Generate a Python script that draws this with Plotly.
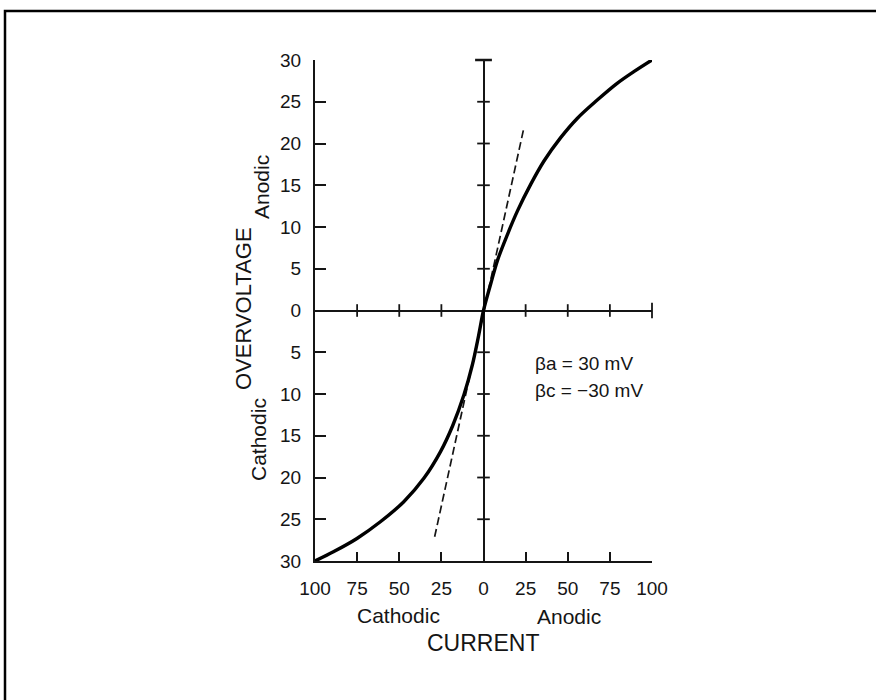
import plotly.graph_objects as go

# ---- data ----
current_curve = [-100, -89.1, -75.1, -61.2, -47.3, -35.4, -25.5, -18.3, -11.6, -6.6, -2.9, 0,
                 4.3, 8.3, 14.2, 20.1, 28.0, 35.9, 45.8, 55.6, 67.5, 79.3, 89.2, 100]
overvoltage_curve = [-30, -28.9, -27.3, -25.3, -22.9, -20.1, -16.9, -13.8, -10.1, -6.5, -3.0, 0,
                     3.2, 6.0, 9.1, 11.9, 15.1, 17.9, 20.7, 23.0, 25.2, 27.2, 28.6, 30]
tangent_current = [-29, 24.1]
tangent_overvoltage = [-27.1, 22]

y_ticks = [-30, -25, -20, -15, -10, -5, 0, 5, 10, 15, 20, 25, 30]
y_ticklabels = ["30", "25", "20", "15", "10", "5", "0", "5", "10", "15", "20", "25", "30"]
x_ticks = [-100, -75, -50, -25, 0, 25, 50, 75, 100]
x_ticklabels = ["100", "75", "50", "25", "0", "25", "50", "75", "100"]

center_y_ticks = [-25, -20, -15, -10, -5, 5, 10, 15, 20, 25]
center_x_ticks = [-75, -50, -25, 25, 50, 75]

W, H = 876, 700
L, R, T, B = 315, 224, 60, 139
PW, PH = W - L - R, H - T - B


def px(x):
    return (x - L) / PW


def py(y):
    return (H - B - y) / PH


FONT = "Liberation Sans, Arial, Helvetica, sans-serif"
INK = "#151515"

fig = go.Figure()

# tick marks on central axes
fig.add_trace(go.Scatter(
    x=[0] * len(center_y_ticks), y=center_y_ticks, mode="markers",
    marker=dict(symbol="line-ew", size=9, line=dict(width=1.8, color=INK)),
    hoverinfo="skip", showlegend=False, cliponaxis=False))
fig.add_trace(go.Scatter(
    x=center_x_ticks, y=[0] * len(center_x_ticks), mode="markers",
    marker=dict(symbol="line-ns", size=9, line=dict(width=1.8, color=INK)),
    hoverinfo="skip", showlegend=False, cliponaxis=False))
# end bars of central axes
fig.add_trace(go.Scatter(
    x=[0], y=[y_ticks[-1]], mode="markers",
    marker=dict(symbol="line-ew", size=12, line=dict(width=2.5, color=INK)),
    hoverinfo="skip", showlegend=False, cliponaxis=False))
fig.add_trace(go.Scatter(
    x=[x_ticks[-1]], y=[0], mode="markers",
    marker=dict(symbol="line-ns", size=11, line=dict(width=1.8, color=INK)),
    hoverinfo="skip", showlegend=False, cliponaxis=False))

# tangent (dashed)
fig.add_trace(go.Scatter(
    x=tangent_current, y=tangent_overvoltage, mode="lines",
    line=dict(color=INK, width=1.7, dash="8px,4px"),
    hoverinfo="skip", showlegend=False, cliponaxis=False))

# polarization curve
fig.add_trace(go.Scatter(
    x=current_curve, y=overvoltage_curve, mode="lines",
    line=dict(color="#000000", width=3.4, shape="spline", smoothing=1.0),
    showlegend=False, cliponaxis=False))

axis_common = dict(
    showgrid=False, showline=True, linecolor=INK, linewidth=2.2,
    ticks="inside", tickcolor=INK, tickwidth=1.8,
    zeroline=True, zerolinecolor=INK, zerolinewidth=2,
    tickfont=dict(family=FONT, size=19, color=INK),
    mirror=False,
)

fig.update_xaxes(range=[-100, 100], tickvals=x_ticks, ticktext=x_ticklabels,
                 ticklen=9, ticklabelstandoff=9, **axis_common)
fig.update_yaxes(range=[-30, 30], tickvals=y_ticks, ticktext=y_ticklabels,
                 ticklen=11, ticklabelstandoff=8, **axis_common)

annotations = [
    dict(text="OVERVOLTAGE", x=px(243), y=py(309), textangle=-90,
         font=dict(family=FONT, size=22, color=INK)),
    dict(text="Anodic", x=px(261), y=py(187), textangle=-90,
         font=dict(family=FONT, size=21, color=INK)),
    dict(text="Cathodic", x=px(258), y=py(440), textangle=-90,
         font=dict(family=FONT, size=21, color=INK)),
    dict(text="Cathodic", x=px(398), y=py(615),
         font=dict(family=FONT, size=21, color=INK)),
    dict(text="Anodic", x=px(569), y=py(616),
         font=dict(family=FONT, size=21, color=INK)),
    dict(text="CURRENT", x=px(483), y=py(643),
         font=dict(family=FONT, size=23, color=INK)),
    dict(text="βa = 30 mV", x=px(533), y=py(363), xanchor="left",
         font=dict(family=FONT, size=19, color=INK)),
    dict(text="βc = −30 mV", x=px(533), y=py(390), xanchor="left",
         font=dict(family=FONT, size=19, color=INK)),
]
for a in annotations:
    a.setdefault("xanchor", "center")
    a.update(xref="paper", yref="paper", yanchor="middle", showarrow=False)

fig.update_layout(
    width=W, height=H,
    margin=dict(l=L, r=R, t=T, b=B, pad=0),
    paper_bgcolor="white", plot_bgcolor="white",
    annotations=annotations,
    shapes=[dict(type="rect", xref="paper", yref="paper",
                 x0=px(5), y0=py(11), x1=px(890), y1=py(720),
                 line=dict(color="black", width=2.5), layer="above")],
)

fig.write_html(
    "out.html",
    config={"displayModeBar": False},
    post_script="document.body.style.margin='0';document.body.style.overflow='hidden';",
)
